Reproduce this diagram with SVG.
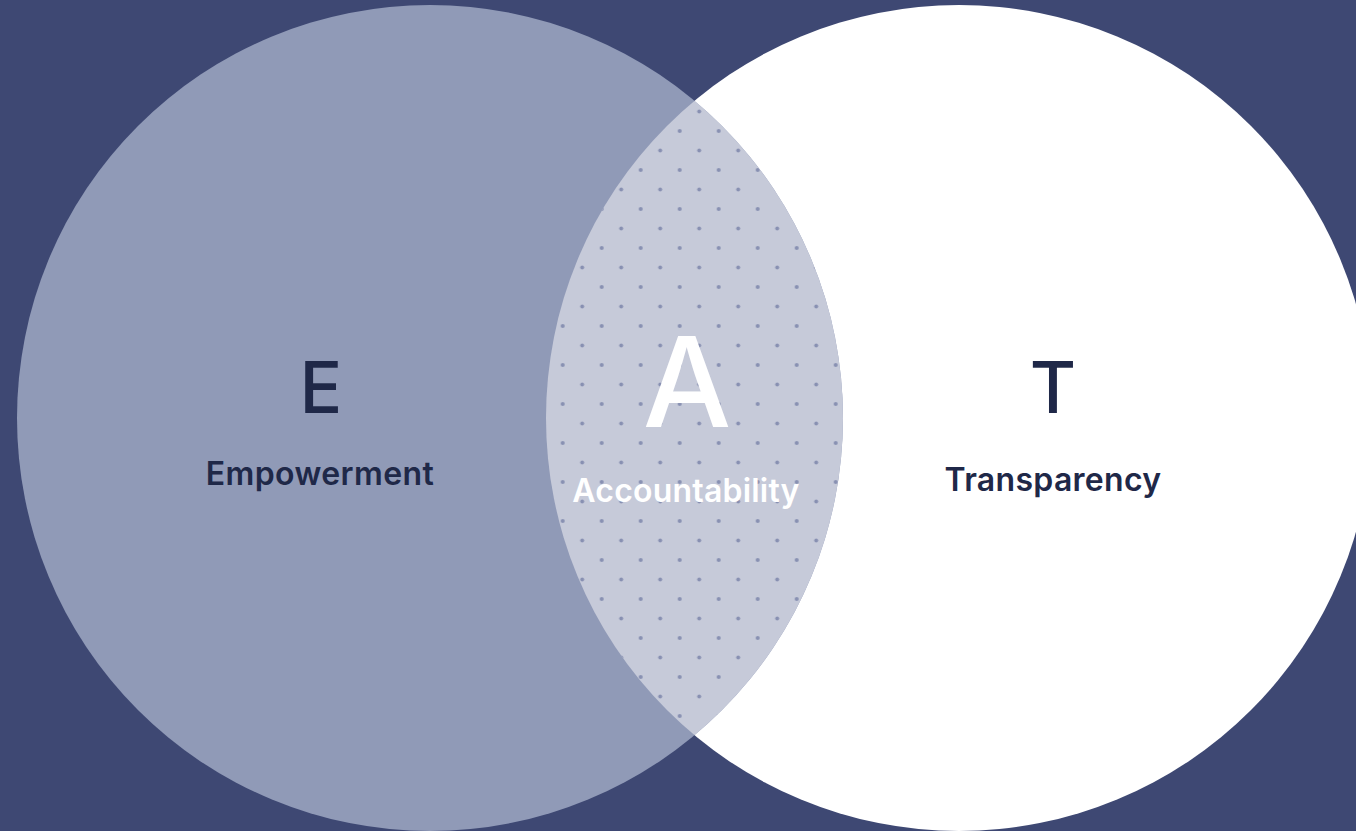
<svg xmlns="http://www.w3.org/2000/svg" width="1356" height="831" viewBox="0 0 1356 831">
  <style>
    .dark { fill: #1f2848; font-family: Inter, "Noto Sans", "DejaVu Sans", sans-serif; text-anchor: middle; }
    .light { fill: #ffffff; font-family: Inter, "Noto Sans", "DejaVu Sans", sans-serif; text-anchor: middle; }
    .big { font-size: 71px; font-weight: 500; }
    .lbl { font-size: 32px; font-weight: 600; }
  </style>
  <defs>
    <clipPath id="clipLeft">
      <circle cx="430" cy="418" r="413"/>
    </clipPath>
    <pattern id="dots" patternUnits="userSpaceOnUse" x="16.7" y="14" width="39" height="39">
      <circle cx="0" cy="0" r="2" fill="#8890b2"/>
      <circle cx="39" cy="0" r="2" fill="#8890b2"/>
      <circle cx="0" cy="39" r="2" fill="#8890b2"/>
      <circle cx="39" cy="39" r="2" fill="#8890b2"/>
      <circle cx="19.5" cy="19.5" r="2" fill="#8890b2"/>
    </pattern>
  </defs>
  <rect width="1356" height="831" fill="#3e4873"/>
  <g id="transparency">
    <circle cx="959" cy="418" r="413" fill="#ffffff"/>
    <text class="dark big" x="1053" y="413">T</text>
    <text class="dark lbl" x="1053" y="491" letter-spacing="0.3">Transparency</text>
  </g>
  <g id="empowerment">
    <circle cx="430" cy="418" r="413" fill="#909ab7"/>
    <text class="dark big" x="321" y="413">E</text>
    <text class="dark lbl" x="320" y="485" letter-spacing="0.4">Empowerment</text>
  </g>
  <g id="accountability">
    <g clip-path="url(#clipLeft)">
      <circle cx="959" cy="418" r="413" fill="#c6cad9"/>
      <circle cx="959" cy="418" r="413" fill="url(#dots)"/>
    </g>
    <text class="light" x="687" y="427" font-size="125" font-weight="500">A</text>
    <text class="light lbl" x="686" y="502" letter-spacing="0.2">Accountability</text>
  </g>
  <g id="connectors"/>
</svg>
